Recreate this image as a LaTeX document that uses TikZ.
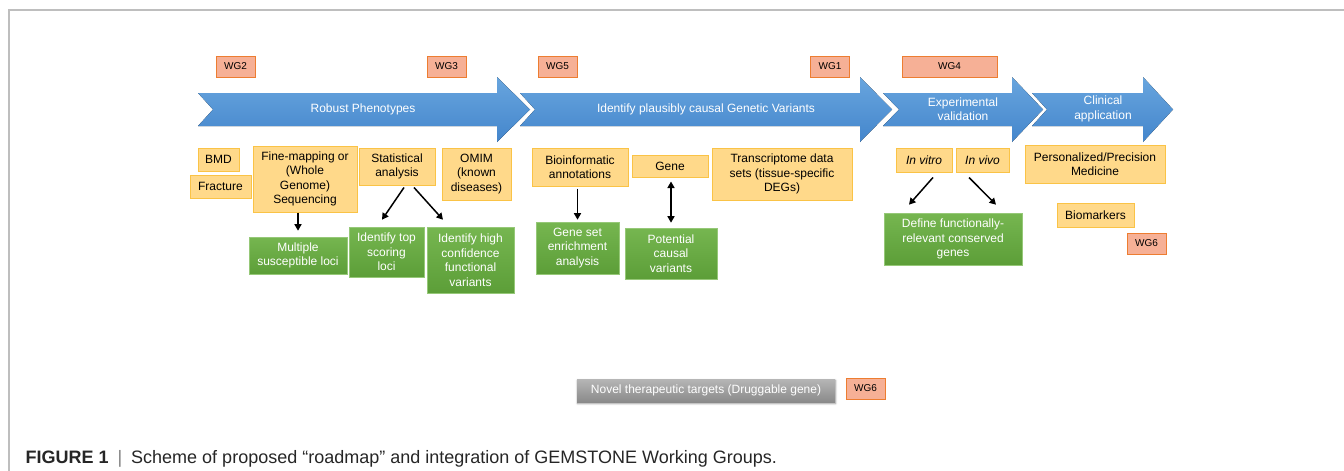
\documentclass[tikz,border=0pt]{standalone}
\usepackage{fontspec}
\setmainfont{Liberation Sans}
\usepackage{xcolor}
\usepackage{tikz}
\usetikzlibrary{arrows.meta,shadows.blur}

\definecolor{phaseTop}{RGB}{104,165,222}
\definecolor{phaseBot}{RGB}{68,134,204}
\definecolor{wgFill}{RGB}{246,176,150}
\definecolor{wgDraw}{RGB}{237,125,49}
\definecolor{dataFill}{RGB}{255,217,138}
\definecolor{dataDraw}{RGB}{250,195,70}
\definecolor{outTop}{RGB}{118,182,80}
\definecolor{outBot}{RGB}{92,158,56}
\definecolor{outDraw}{RGB}{150,200,120}
\definecolor{drugTop}{RGB}{182,182,182}
\definecolor{drugBot}{RGB}{138,138,138}
\definecolor{frameGray}{RGB}{190,190,190}

\begin{document}
\begin{tikzpicture}[
    x=1pt, y=-1pt,
    font=\fontsize{12}{14.5}\selectfont,
    base_box/.style={rectangle, inner sep=1pt, align=center},
    wg_box/.style={base_box, fill=wgFill, draw=wgDraw, line width=1pt, minimum width=39pt, minimum height=21pt, font=\fontsize{10}{12}\selectfont},
    data_box/.style={base_box, fill=dataFill, draw=dataDraw, line width=1pt},
    out_box/.style={base_box, top color=outTop, bottom color=outBot, draw=outDraw, line width=0.6pt, text=white},
    drug_box/.style={base_box, top color=drugTop, bottom color=drugBot, text=white, blur shadow={shadow xshift=0.5pt, shadow yshift=-1.5pt, shadow blur steps=6}},
    phase/.style={top color=phaseTop, bottom color=phaseBot},
    phase_text/.style={text=white, align=center},
    arrow/.style={-{Triangle[length=6.5pt,width=7pt]}, line width=1.5pt, draw=black}
]
\useasboundingbox (0,0) rectangle (1344,471);

% Frame
\draw [frameGray, line width=1.5pt] (9,471) -- (9,10) -- (1344,10);

% Phase arrows
\fill [phase] (198,93) -- (497,93) -- (497,77) -- (530,109.5) -- (497,142) -- (497,126) -- (198,126) -- (213,109.5) -- cycle;
\fill [phase] (520,93) -- (860,93) -- (860,77) -- (892,109.5) -- (860,142) -- (860,126) -- (520,126) -- (535,109.5) -- cycle;
\fill [phase] (883,93) -- (1012,93) -- (1012,77) -- (1043,109.5) -- (1012,142) -- (1012,126) -- (883,126) -- (899,109.5) -- cycle;
\fill [phase] (1032,93) -- (1143,93) -- (1143,77) -- (1173,109.5) -- (1143,142) -- (1143,126) -- (1032,126) -- (1047,109.5) -- cycle;

\node (ph_robust) [phase_text] at (363,109) {Robust Phenotypes};
\node (ph_variants) [phase_text] at (706,109) {Identify plausibly causal Genetic Variants};
\node (ph_validation) [phase_text] at (963,109) {Experimental\\validation};
\node (ph_clinical) [phase_text] at (1103,109) {Clinical\\application};

% Working groups
\node (wg2) [wg_box] at (235.5,66.5) {WG2};
\node (wg3) [wg_box] at (446.5,66.5) {WG3};
\node (wg5) [wg_box] at (557.5,66.5) {WG5};
\node (wg1) [wg_box] at (830,66.5) {WG1};
\node (wg4) [wg_box, minimum width=95pt] at (949.5,66.5) {WG4};
\node (wg6a) [wg_box] at (1146.5,243.5) {WG6};
\node (wg6b) [wg_box] at (865.5,388.5) {WG6};

% Data and methods
\node (bmd) [data_box, minimum width=41pt, minimum height=23pt] at (218.5,159.5) {BMD};
\node (fracture) [data_box, minimum width=61pt, minimum height=23pt] at (220.5,186.5) {Fracture};
\node (finemap) [data_box, minimum width=104pt, minimum height=66pt] at (305,179) {Fine-mapping or\\(Whole\\Genome)\\Sequencing};
\node (stat) [data_box, minimum width=76pt, minimum height=37pt] at (397,166.5) {Statistical\\analysis};
\node (omim) [data_box, minimum width=69pt, minimum height=52pt] at (476.5,174) {OMIM\\(known\\diseases)};
\node (bioinf) [data_box, minimum width=96pt, minimum height=38pt] at (580,167) {Bioinformatic\\annotations};
\node (gene) [data_box, minimum width=76pt, minimum height=22pt] at (670,166) {Gene};
\node (transcr) [data_box, minimum width=140pt, minimum height=52pt] at (782,174) {Transcriptome data\\sets (tissue-specific\\DEGs)};
\node (invitro) [data_box, minimum width=56pt, minimum height=24pt] at (924,160) {\itshape In vitro};
\node (invivo) [data_box, minimum width=53pt, minimum height=24pt] at (982.5,160) {\itshape In vivo};
\node (precision) [data_box, minimum width=140pt, minimum height=38pt] at (1095,164) {Personalized/Precision\\Medicine};
\node (biomark) [data_box, minimum width=77pt, minimum height=24pt] at (1095.5,215) {Biomarkers};

% Outcomes
\node (multiloci) [out_box, minimum width=98pt, minimum height=37pt] at (298,255.5) {Multiple\\susceptible loci};
\node (topscore) [out_box, minimum width=75pt, minimum height=50pt] at (386.5,252) {Identify top\\scoring\\loci};
\node (highconf) [out_box, minimum width=87pt, minimum height=66pt] at (470.5,260) {Identify high\\confidence\\functional\\variants};
\node (geneset) [out_box, minimum width=83pt, minimum height=52pt] at (577.5,248) {Gene set\\enrichment\\analysis};
\node (potential) [out_box, minimum width=92pt, minimum height=51pt] at (671,253.5) {Potential\\causal\\variants};
\node (definegenes) [out_box, minimum width=138pt, minimum height=52pt] at (953,239) {Define functionally-\\relevant conserved\\genes};

\node (novel) [drug_box, minimum width=258pt, minimum height=23pt] at (706,390.5) {Novel therapeutic targets (Druggable gene)};

% Connections
\draw [arrow] (finemap.south -| multiloci.north) -- ([yshift=6pt]multiloci.north);
\draw [arrow] ([xshift=7pt,yshift=-2pt]stat.south) -- ([xshift=-4.5pt,yshift=7pt]topscore.north);
\draw [arrow] ([xshift=17pt,yshift=-2pt]stat.south) -- ([xshift=-27.5pt,yshift=7pt]highconf.north);
\draw [arrow] ([yshift=-2pt]bioinf.south -| geneset.north) -- ([yshift=2pt]geneset.north);
\draw [arrow, {Triangle[length=6.5pt,width=7pt]}-{Triangle[length=6.5pt,width=7pt]}] ([yshift=-4pt]gene.south -| potential.north) -- ([yshift=5pt]potential.north);
\draw [arrow] ([xshift=9pt,yshift=-5pt]invitro.south) -- ([xshift=-44pt,yshift=8pt]definegenes.north);
\draw [arrow] ([xshift=-13.5pt,yshift=-5pt]invivo.south) -- ([xshift=43pt,yshift=8pt]definegenes.north);

% Caption
\node (caption) [anchor=base west, font=\fontsize{18}{21}\selectfont, text=black!85] at (22,463) {\textbf{FIGURE 1}\hspace{9pt}{\color{black!50}|}\hspace{9pt}Scheme of proposed “roadmap” and integration of GEMSTONE Working Groups.};

\end{tikzpicture}
\end{document}
